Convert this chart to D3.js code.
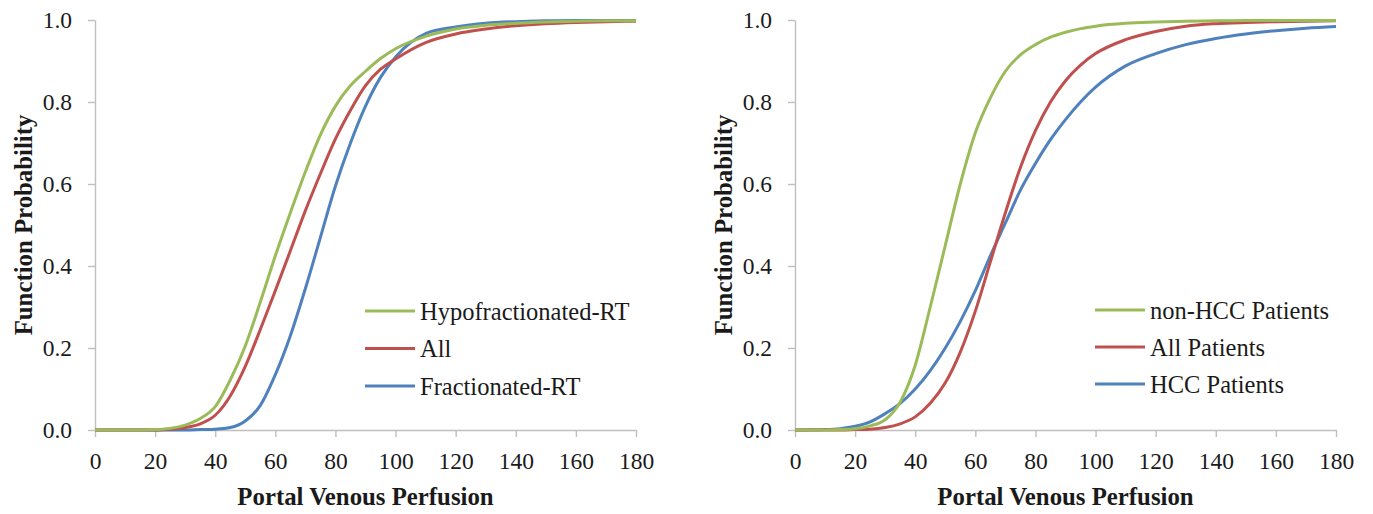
<!DOCTYPE html>
<html>
<head>
<meta charset="utf-8">
<script src="https://cdn.jsdelivr.net/npm/d3@7"></script>
<style>
  body { margin: 0; background: #fff; }
  svg text { font-family: "Liberation Serif", "Times New Roman", serif; fill: #1a1a1a; }
  .axis path, .axis line { stroke: #bfbfbf; stroke-width: 1.4; }
  .axis text { font-size: 23.5px; }
  .title { font-size: 24.8px; font-weight: bold; }
  .legend text { font-size: 24.5px; }
</style>
</head>
<body>
<svg id="chart" width="1373" height="514"></svg>
<script>
// shared x grid (portal venous perfusion) for every curve
var perfusion = [0, 10, 15, 20, 25, 30, 35, 40, 45, 50, 55, 60, 65, 70, 75, 80, 85, 90, 95, 100,
                 110, 120, 130, 140, 150, 160, 170, 180];

// left panel: by treatment schedule
var hypoRT = [0, 0, 0, 0.001, 0.004, 0.012, 0.028, 0.057, 0.122, 0.205, 0.312, 0.425, 0.53, 0.63, 0.72, 0.79, 0.84,
              0.875, 0.906, 0.93, 0.96, 0.978, 0.987, 0.992, 0.995, 0.997, 0.998, 0.998];
var allRT = [0, 0, 0, 0, 0.002, 0.006, 0.015, 0.036, 0.083, 0.155, 0.245, 0.34, 0.437, 0.535, 0.625, 0.71, 0.78,
             0.84, 0.88, 0.905, 0.945, 0.966, 0.978, 0.986, 0.991, 0.994, 0.996, 0.997];
var fracRT = [0, 0, 0, 0, 0, 0, 0.001, 0.002, 0.006, 0.022, 0.06, 0.135, 0.23, 0.345, 0.47, 0.595, 0.7,
              0.79, 0.86, 0.91, 0.967, 0.983, 0.992, 0.996, 0.998, 0.999, 0.999, 0.999];

// right panel: by patient group
var nonHCC = [0, 0, 0.001, 0.003, 0.01, 0.025, 0.068, 0.158, 0.3, 0.45, 0.6, 0.725, 0.81, 0.875, 0.915, 0.94, 0.958,
              0.97, 0.979, 0.985, 0.992, 0.995, 0.997, 0.998, 0.999, 0.999, 0.999, 0.999];
var allPatients = [0, 0, 0, 0.001, 0.002, 0.006, 0.015, 0.032, 0.065, 0.115, 0.19, 0.29, 0.41, 0.53, 0.64, 0.73, 0.8,
                   0.852, 0.89, 0.918, 0.952, 0.972, 0.985, 0.991, 0.994, 0.996, 0.997, 0.998];
var hccPatients = [0, 0.001, 0.003, 0.009, 0.02, 0.04, 0.065, 0.1, 0.145, 0.2, 0.265, 0.34, 0.425, 0.505, 0.585, 0.65, 0.708,
                   0.757, 0.8, 0.836, 0.888, 0.918, 0.94, 0.955, 0.966, 0.974, 0.98, 0.984];

var xTicks = [0, 20, 40, 60, 80, 100, 120, 140, 160, 180];
var yTicks = [0, 0.2, 0.4, 0.6, 0.8, 1.0];

var GREEN = "#9bbb59", RED = "#c0504d", BLUE = "#4f81bd";

var leftSeries = [
  {name: "Hypofractionated-RT", values: hypoRT, color: GREEN},
  {name: "All", values: allRT, color: RED},
  {name: "Fractionated-RT", values: fracRT, color: BLUE}
];
var rightSeries = [
  {name: "non-HCC Patients", values: nonHCC, color: GREEN},
  {name: "All Patients", values: allPatients, color: RED},
  {name: "HCC Patients", values: hccPatients, color: BLUE}
];

var svg = d3.select("#chart");
svg.append("rect").attr("width", 1373).attr("height", 514).attr("fill", "#fff");

function panel(left, series, legendX, legendY, legendStep) {
  var x = d3.scaleLinear().domain([0, 180]).range([left, left + 541]),
      y = d3.scaleLinear().domain([0, 1]).range([430, 20]),
      g = svg.append("g");

  g.append("g").attr("class", "axis")
    .attr("transform", "translate(" + left + ",0)")
    .call(d3.axisLeft(y).tickValues(yTicks).tickFormat(d3.format(".1f"))
      .tickSize(7).tickSizeOuter(0).tickPadding(16));

  g.append("g").attr("class", "axis")
    .attr("transform", "translate(0,430)")
    .call(d3.axisBottom(x).tickValues(xTicks).tickSize(7).tickSizeOuter(0).tickPadding(15));

  var line = d3.line()
    .x(function (d, i) { return x(perfusion[i]); })
    .y(function (d) { return y(d); })
    .curve(d3.curveMonotoneX);

  // draw in reverse so green sits on top like the original
  g.selectAll("path.curve").data(series.slice().reverse()).enter()
    .append("path").attr("class", "curve")
    .attr("d", function (s) { return line(s.values); })
    .attr("fill", "none")
    .attr("stroke", function (s) { return s.color; })
    .attr("stroke-width", 3);

  g.append("text").attr("class", "title")
    .attr("x", (x(0) + x(180)) / 2).attr("y", 505)
    .attr("text-anchor", "middle")
    .text("Portal Venous Perfusion");

  g.append("text").attr("class", "title")
    .attr("transform", "translate(" + (left - 63.5) + ",225) rotate(-90)")
    .attr("text-anchor", "middle")
    .text("Function Probability");

  var leg = g.append("g").attr("class", "legend")
    .selectAll("g").data(series).enter().append("g")
    .attr("transform", function (s, i) { return "translate(" + legendX + "," + (legendY + i * legendStep) + ")"; });
  leg.append("line").attr("x1", 0).attr("x2", 50)
    .attr("stroke", function (s) { return s.color; }).attr("stroke-width", 3);
  leg.append("text").attr("x", 55).attr("dy", "0.35em").text(function (s) { return s.name; });
}

panel(95, leftSeries, 365, 311, 37.5);
panel(795, rightSeries, 1095, 310, 37);
</script>
</body>
</html>
